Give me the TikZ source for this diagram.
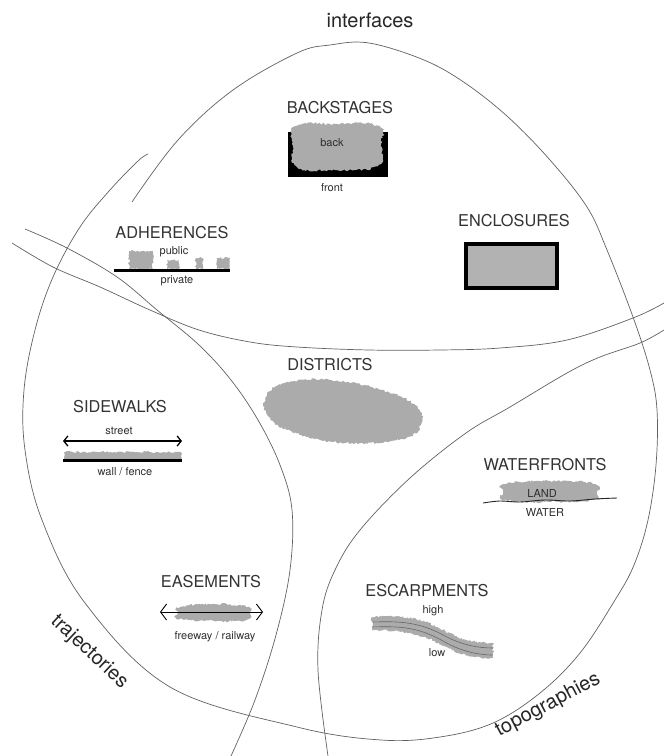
\documentclass[tikz,border=0pt]{standalone}
\usepackage{fontspec}
\setmainfont{TeX Gyre Heros}
\usetikzlibrary{decorations.pathmorphing, arrows.meta}
\begin{document}
\pgfmathsetseed{7}
\begin{tikzpicture}[x=1pt,y=-1pt,
  bound/.style={draw=black!62, line width=0.7pt},
  bigword/.style={font=\fontsize{20}{22}\selectfont, text=black!85, inner sep=0pt},
  lab/.style={font=\fontsize{16.3}{18}\selectfont, text=black!80, inner sep=0pt},
  small/.style={font=\fontsize{11}{12}\selectfont, text=black!82, inner sep=0pt},
  blob/.style={fill=black!33, decorate, decoration={random steps, segment length=1.6pt, amplitude=1.1pt}},
  blackbar/.style={line width=3pt, draw=black},
]
\useasboundingbox (0,0) rectangle (664,756);

% ---------- boundary curves ----------
\draw[bound] plot[smooth, tension=0.6] coordinates {
 (148,154) (138,161) (110,190) (80,227) (53,277) (35,330) (24,390) (25,450) (42,520)
 (85,603) (170,687) (297,727) (381,740) (440,737) (493,723) (540,693) (580,653)
 (615,600) (634,565) (648,520) (656,465) (657,410) (650,370) (633,317) (607,250) (587,207) (550,160)
 (508,117) (465,83) (424,60) (369,43) (330,45) (297,53) (233,90) (178,140) (132,202)};
\draw[bound] plot[smooth, tension=0.6] coordinates {
 (25,229) (67,248) (117,277) (157,310) (199,345) (231,380) (258,420) (280,465)
 (292,510) (290,570) (276,635) (255,700) (231,756)};
\draw[bound] plot[smooth, tension=0.6] coordinates {
 (12,243) (53,267) (100,287) (150,310) (199,330) (250,342) (297,347) (369,350)
 (440,350) (500,348) (567,340) (633,318) (664,303)};
\draw[bound] plot[smooth, tension=0.6] coordinates {
 (664,330) (640,343) (600,357) (567,373) (510,407) (466,433) (410,478) (360,530)
 (335,570) (322,610) (318,670) (328,756)};

% ---------- region words ----------
\node[bigword] (interfaces) at (370,20) {interfaces};
\node[bigword, rotate=-43] (trajectories) at (89,652) {trajectories};
\node[bigword, rotate=28] (topographies) at (548,705) {topographies};

% ---------- BACKSTAGES ----------
\node[lab] (backstages) at (340,108) {BACKSTAGES};
\fill[black] (288,132) rectangle (388,177);
\fill[blob] plot[smooth cycle, tension=0.8] coordinates {
 (296,126) (335,124) (378,126) (381,145) (378,166) (335,170) (297,167) (293,146)};
\node[small] (back) at (332,143) {back};
\node[small] (front) at (332,188) {front};

% ---------- ADHERENCES ----------
\node[lab] (adherences) at (172,233) {ADHERENCES};
\fill[blob] (129,251) rectangle (153,269);
\fill[blob] (167,260) rectangle (179,269);
\fill[blob] (196,258) rectangle (203,269);
\fill[blob] (217,258) rectangle (230,269);
\draw[blackbar] (114,270) -- (230,270);
\node[small] (public) at (174,252) {public};
\node[small] (private) at (177,281) {private};

% ---------- ENCLOSURES ----------
\node[lab] (enclosures) at (514,221) {ENCLOSURES};
\draw[line width=4pt, draw=black, fill=black!30] (466,244) rectangle (557,288);

% ---------- DISTRICTS ----------
\node[lab] (districts) at (330,365) {DISTRICTS};
\fill[blob] plot[smooth cycle, tension=0.7] coordinates {
 (266,397) (285,383) (330,380) (382,390) (415,405) (421,424) (402,439) (345,443)
 (292,432) (268,416)};

% ---------- SIDEWALKS ----------
\node[lab] (sidewalks) at (120,407) {SIDEWALKS};
\node[small] (street) at (119,431) {street};
\coordinate (swL) at (63,441);
\coordinate (swR) at (182,441);
\draw[line width=1.3pt, {Straight Barb[length=4pt,width=10pt]}-{Straight Barb[length=4pt,width=10pt]}] (swL) -- (swR);
\fill[blob] (64,452) rectangle (181,460);
\draw[blackbar] (63,460.5) -- (182,460.5);
\node[small] (wall) at (125,472) {wall / fence};

% ---------- WATERFRONTS ----------
\node[lab] (waterfronts) at (545,465) {WATERFRONTS};
\fill[blob] plot[smooth cycle, tension=0.8] coordinates {
 (505,484) (550,481) (595,484) (597,493) (594,500) (550,502) (506,500) (503,492)};
\node[small] (land) at (542,493) {LAND};
\draw[line width=0.9pt, black!85] plot[smooth, tension=0.6] coordinates {
 (483,503) (500,501) (520,502) (545,500) (570,501) (595,499) (617,498)};
\node[small] (water) at (545,512) {WATER};

% ---------- EASEMENTS ----------
\node[lab] (easements) at (211,582) {EASEMENTS};
\fill[blob] plot[smooth cycle, tension=0.8] coordinates {
 (180,607) (214,604) (248,607) (250,613) (246,620) (214,621) (180,619) (177,613)};
\coordinate (esL) at (160,612);
\coordinate (esR) at (263,612);
\draw[line width=0.9pt, {Straight Barb[length=6pt,width=16pt]}-{Straight Barb[length=6pt,width=16pt]}] (esL) -- (esR);
\node[small] (freeway) at (215,637) {freeway / railway};

% ---------- ESCARPMENTS ----------
\node[lab] (escarpments) at (427,591) {ESCARPMENTS};
\node[small] (high) at (433,611) {high};
\fill[blob] (372,617) .. controls (400,616) and (420,616) .. (445,631)
  .. controls (462,641) and (478,643) .. (493,643)
  -- (493,658) .. controls (475,658) and (460,655) .. (444,646)
  .. controls (420,632) and (400,630) .. (372,630) -- cycle;
\draw[black!60, line width=0.6pt] (372,622) .. controls (400,621) and (420,622) .. (445,636)
  .. controls (462,645) and (478,648) .. (493,648);
\draw[black!60, line width=0.6pt] (372,627) .. controls (400,626) and (418,627) .. (443,641)
  .. controls (460,651) and (478,655) .. (493,655);
\node[small] (low) at (437,653) {low};
\end{tikzpicture}
\end{document}
